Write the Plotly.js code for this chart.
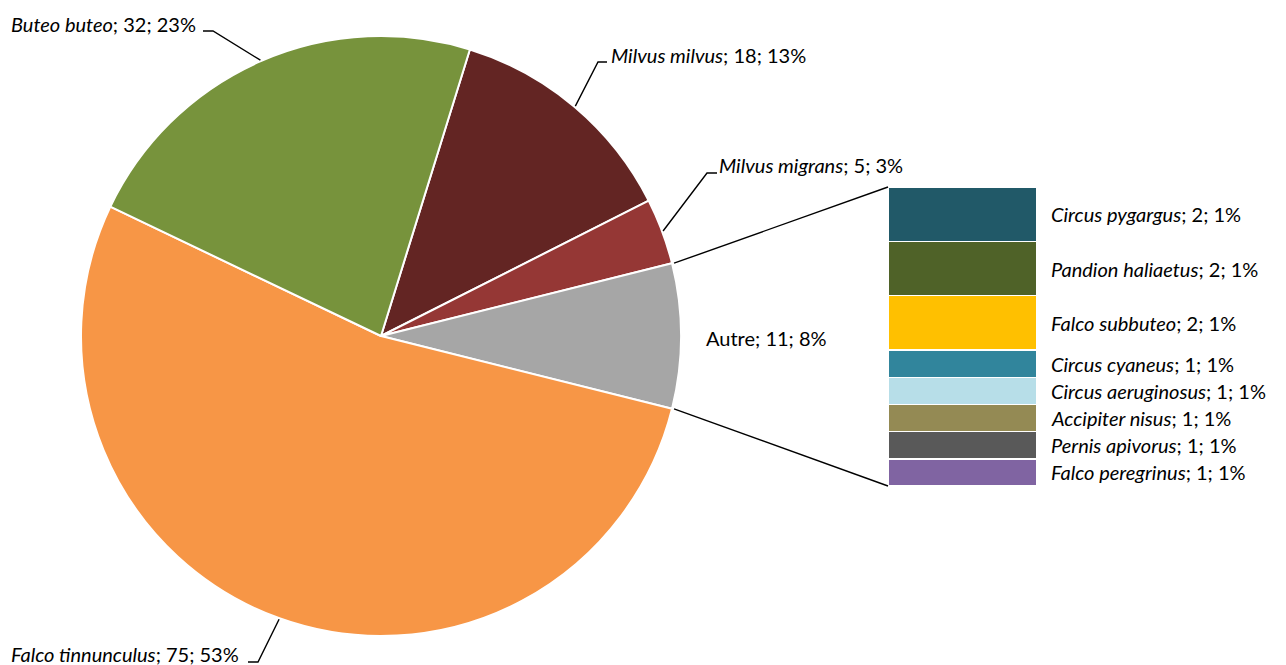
<!DOCTYPE html>
<html><head><meta charset="utf-8">
<script src="https://cdn.plot.ly/plotly-3.0.1.min.js"></script>
<style>html,body{margin:0;padding:0;background:#fff}</style>
</head><body>
<div id="chart" style="width:1286px;height:665px"></div>
<script>
// ---- data ----
const pieLabels = ['Milvus milvus', 'Milvus migrans', 'Autre', 'Falco tinnunculus', 'Buteo buteo'];
const pieValues = [18, 5, 11, 75, 32];
const pieShares = ['13%', '3%', '8%', '53%', '23%'];
const pieItalic = [true, true, false, true, true];
const pieColors = ['#632523', '#953735', '#A6A6A6', '#F79646', '#77933C'];

const barLabels = ['Circus pygargus', 'Pandion haliaetus', 'Falco subbuteo', 'Circus cyaneus',
                   'Circus aeruginosus', 'Accipiter nisus', 'Pernis apivorus', 'Falco peregrinus'];
const barValues = [2, 2, 2, 1, 1, 1, 1, 1];
const barShares = ['1%', '1%', '1%', '1%', '1%', '1%', '1%', '1%'];
const barColors = ['#215968', '#4F6228', '#FFC000', '#31859C', '#B7DEE8', '#948A54', '#595959', '#8064A2'];

// ---- layout helpers ----
const W = 1286, H = 665;
const px = x => x / W;
const py = y => 1 - y / H;
const FONT = 'Lato, "Open Sans", sans-serif';
const FS = 20;

const pieCx = 381, pieCy = 336, pieR = 300;
const total = pieValues.reduce((a, b) => a + b, 0);
const otherIdx = pieLabels.indexOf('Autre');
let before = 0;
for (let i = 0; i < otherIdx; i++) before += pieValues[i];
// Excel "pie of bar": the "other" slice is centred at 3 o'clock
const rotation = 90 - (before + pieValues[otherIdx] / 2) / total * 360;

// slice angles (deg clockwise from 12 o'clock)
const starts = [], ends = [];
let cum = 0;
pieValues.forEach(v => { starts.push(rotation + cum / total * 360); cum += v; ends.push(rotation + cum / total * 360); });
const edge = (deg, r) => { const a = deg * Math.PI / 180; return [pieCx + r * Math.sin(a), pieCy - r * Math.cos(a)]; };

const fmt = i => (pieItalic[i] ? '<i>' + pieLabels[i] + '</i>' : pieLabels[i]) + '; ' + pieValues[i] + '; ' + pieShares[i];

// label placement (pixels): text anchor and leader elbow
const labelPos = {
  'Buteo buteo':       {tx: 198, ty: 24, anchor: 'right', elbow: [213, 31], tail: [203, 31]},
  'Milvus milvus':     {tx: 609, ty: 55, anchor: 'left',  elbow: [598, 62], tail: [607, 62]},
  'Milvus migrans':    {tx: 717, ty: 165, anchor: 'left', elbow: [707, 173], tail: [717, 173]},
  'Autre':             {tx: 704, ty: 338, anchor: 'left', elbow: null},
  'Falco tinnunculus': {tx: 241, ty: 654, anchor: 'right', elbow: [258, 662], tail: [248, 662]}
};

const annotations = [];
const shapes = [];
pieLabels.forEach((lab, i) => {
  const p = labelPos[lab];
  annotations.push({xref: 'paper', yref: 'paper', x: px(p.tx), y: py(p.ty), xanchor: p.anchor, yanchor: 'middle',
    text: fmt(i), showarrow: false, font: {family: FONT, size: FS, color: '#000'}});
  if (p.elbow) {
    const mid = (starts[i] + ends[i]) / 2;
    const e = edge(mid, pieR + 1);
    shapes.push({type: 'path', xref: 'paper', yref: 'paper',
      path: `M ${px(e[0])} ${py(e[1])} L ${px(p.elbow[0])} ${py(p.elbow[1])} L ${px(p.tail[0])} ${py(p.tail[1])}`,
      line: {color: '#000', width: 1.4}});
  }
});

// bar geometry
const barDomX = [888 / W, 1037 / W];
const barDomY = [py(486), py(187)];
const barTotal = barValues.reduce((a, b) => a + b, 0);

// connector lines from the "Autre" slice edges to the bar corners
const ptTop = edge(starts[otherIdx], pieR);
const ptBot = edge(ends[otherIdx], pieR);
shapes.push({type: 'line', xref: 'paper', yref: 'paper', x0: px(ptTop[0] + 2), y0: py(ptTop[1]), x1: barDomX[0], y1: barDomY[1], line: {color: '#000', width: 1.4}});
shapes.push({type: 'line', xref: 'paper', yref: 'paper', x0: px(ptBot[0] + 2), y0: py(ptBot[1]), x1: barDomX[0], y1: barDomY[0], line: {color: '#000', width: 1.4}});

const traces = [{
  type: 'pie', labels: pieLabels, values: pieValues, sort: false, direction: 'clockwise', rotation: rotation,
  marker: {colors: pieColors, line: {color: '#fff', width: 2}}, textinfo: 'none', hoverinfo: 'label+value+percent',
  domain: {x: [px(pieCx - pieR), px(pieCx + pieR)], y: [py(pieCy + pieR), py(pieCy - pieR)]}, showlegend: false
}];

let c = 0;
barLabels.forEach((lab, i) => {
  traces.push({type: 'bar', x: ['Autre'], y: [barValues[i]], name: lab, xaxis: 'x', yaxis: 'y', width: 1,
    marker: {color: barColors[i], line: {color: '#fff', width: 1.5}}, showlegend: false, hoverinfo: 'name+y'});
  annotations.push({xref: 'paper', yref: 'y', x: px(1049), y: c + barValues[i] / 2, xanchor: 'left', yanchor: 'middle',
    text: '<i>' + lab + '</i>; ' + barValues[i] + '; ' + barShares[i], showarrow: false, font: {family: FONT, size: FS, color: '#000'}});
  c += barValues[i];
});

const layout = {
  width: W, height: H, margin: {l: 0, r: 0, t: 0, b: 0}, paper_bgcolor: '#fff', plot_bgcolor: 'rgba(0,0,0,0)',
  barmode: 'stack', bargap: 0,
  xaxis: {domain: barDomX, range: [-0.5, 0.5], visible: false, fixedrange: true},
  yaxis: {domain: barDomY, range: [barTotal, 0], visible: false, fixedrange: true},
  annotations: annotations, shapes: shapes, showlegend: false
};

Plotly.newPlot('chart', traces, layout, {displayModeBar: false, staticPlot: true});
</script>
</body></html>
